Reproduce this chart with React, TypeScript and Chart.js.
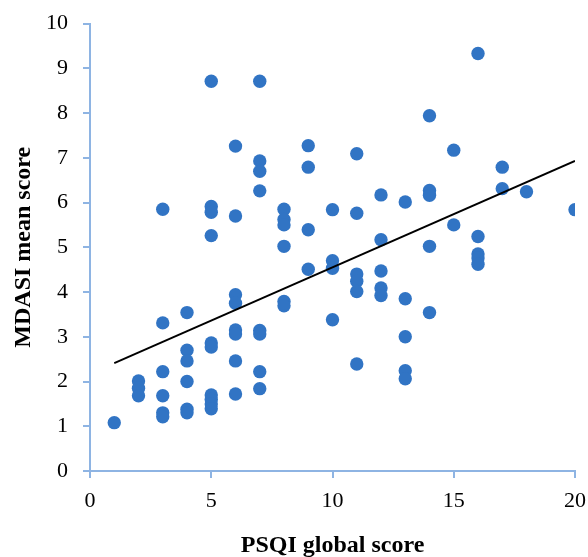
import React, { useEffect, useRef } from "react";
import { Chart, registerables } from "chart.js";

Chart.register(...registerables);

const psqiScores: number[] = [
  1,
  2, 2, 2,
  3, 3, 3, 3, 3, 3,
  4, 4, 4, 4, 4, 4,
  5, 5, 5, 5, 5, 5, 5, 5, 5, 5,
  6, 6, 6, 6, 6, 6, 6, 6,
  7, 7, 7, 7, 7, 7, 7, 7,
  8, 8, 8, 8, 8, 8,
  9, 9, 9, 9,
  10, 10, 10, 10,
  11, 11, 11, 11, 11, 11,
  12, 12, 12, 12, 12,
  13, 13, 13, 13, 13,
  14, 14, 14, 14, 14,
  15, 15,
  16, 16, 16, 16, 16,
  17, 17,
  18,
  20,
];

const mdasiScores: number[] = [
  1.08,
  2.01, 1.85, 1.68,
  5.85, 3.31, 2.22, 1.68, 1.3, 1.21,
  3.54, 2.7, 2.46, 2.0, 1.38, 1.3,
  8.71, 5.91, 5.78, 5.26, 2.86, 2.77, 1.7, 1.6, 1.5, 1.39,
  7.26, 5.7, 3.94, 3.75, 3.15, 3.06, 2.46, 1.72,
  8.71, 6.93, 6.7, 6.26, 3.14, 3.06, 2.22, 1.84,
  5.85, 5.62, 5.5, 5.02, 3.79, 3.69,
  7.27, 6.79, 5.39, 4.51,
  5.84, 4.7, 4.53, 3.38,
  7.09, 5.76, 4.4, 4.24, 4.01, 2.39,
  6.17, 5.17, 4.47, 4.09, 3.92,
  6.01, 3.85, 3.0, 2.24, 2.06,
  7.94, 6.27, 6.16, 5.02, 3.54,
  7.17, 5.5,
  9.33, 5.24, 4.85, 4.76, 4.62,
  6.79, 6.31,
  6.24,
  5.84,
];

const trendX: number[] = [1, 20];
const trendY: number[] = [2.41, 6.93];

const xTitle = "PSQI global score";
const yTitle = "MDASI mean score";

const AXIS_COLOR = "#8EB4E3";
const POINT_COLOR = "#3174C4";
const FONT = "'Liberation Serif', 'Times New Roman', serif";

export default function App() {
  const ref = useRef<HTMLCanvasElement | null>(null);

  useEffect(() => {
    document.body.style.margin = "0";
    const canvas = ref.current;
    if (!canvas) return;
    const chart = new Chart(canvas, {
      type: "scatter",
      data: {
        datasets: [
          {
            type: "line",
            label: "Trend",
            data: trendX.map((x, i) => ({ x, y: trendY[i] })),
            borderColor: "#000000",
            borderWidth: 2,
            pointRadius: 0,
            fill: false,
            order: 0,
          },
          {
            type: "scatter",
            label: "Scores",
            data: psqiScores.map((x, i) => ({ x, y: mdasiScores[i] })),
            backgroundColor: POINT_COLOR,
            borderColor: POINT_COLOR,
            borderWidth: 0,
            pointRadius: 6.7,
            order: 1,
          },
        ],
      },
      options: {
        animation: false,
        responsive: false,
        devicePixelRatio: 1,
        layout: { padding: { top: 23.5, right: 13, left: 0, bottom: 0 } },
        plugins: {
          legend: { display: false },
          tooltip: { enabled: false },
        },
        scales: {
          x: {
            type: "linear",
            min: 0,
            max: 20,
            afterFit: (scale: any) => {
              scale.height = 86;
              scale.paddingLeft = 0;
              scale.paddingRight = 0;
            },
            ticks: {
              stepSize: 5,
              color: "#000000",
              padding: 10,
              font: { family: FONT, size: 22 },
            },
            grid: {
              display: true,
              drawOnChartArea: false,
              drawTicks: true,
              tickLength: 7,
              color: AXIS_COLOR,
              lineWidth: 2,
            },
            border: { display: true, color: AXIS_COLOR, width: 2 },
            title: {
              display: true,
              text: xTitle,
              color: "#000000",
              padding: { top: 0, bottom: 0 },
              font: { family: FONT, size: 24, weight: "bold", lineHeight: 0.9 },
            },
          },
          y: {
            type: "linear",
            min: 0,
            max: 10,
            afterFit: (scale: any) => {
              scale.width = 90;
              scale.paddingTop = 0;
              scale.paddingBottom = 0;
            },
            ticks: {
              stepSize: 1,
              color: "#000000",
              padding: 15,
              font: { family: FONT, size: 22 },
            },
            grid: {
              display: true,
              drawOnChartArea: false,
              drawTicks: true,
              tickLength: 7,
              color: AXIS_COLOR,
              lineWidth: 2,
            },
            border: { display: true, color: AXIS_COLOR, width: 2 },
            title: {
              display: true,
              text: yTitle,
              color: "#000000",
              padding: { top: 9, bottom: 0 },
              font: { family: FONT, size: 24, weight: "bold" },
            },
          },
        },
      },
    } as any);
    return () => chart.destroy();
  }, []);

  return (
    <div style={{ width: 588, height: 557 }}>
      <canvas ref={ref} width={588} height={557} style={{ display: "block" }} />
    </div>
  );
}
